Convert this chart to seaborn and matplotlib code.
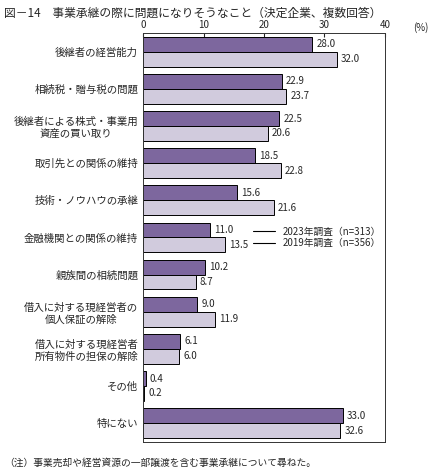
import matplotlib
matplotlib.use("Agg")
import matplotlib.pyplot as plt
import seaborn as sns
import pandas as pd
from matplotlib.lines import Line2D

categories = ["後継者の経営能力", "相続税・贈与税の問題", "後継者による株式・事業用\n資産の買い取り",
              "取引先との関係の維持", "技術・ノウハウの承継", "金融機関との関係の維持",
              "親族間の相続問題", "借入に対する現経営者の\n個人保証の解除",
              "借入に対する現経営者\n所有物件の担保の解除", "その他", "特にない"]
v2023 = [28.0, 22.9, 22.5, 18.5, 15.6, 11.0, 10.2, 9.0, 6.1, 0.4, 33.0]
v2019 = [32.0, 23.7, 20.6, 22.8, 21.6, 13.5, 8.7, 11.9, 6.0, 0.2, 32.6]
series = ["2023年調査（n=313）", "2019年調査（n=356）"]

df = pd.DataFrame({"cat": categories * 2,
                   "val": v2023 + v2019,
                   "series": [series[0]] * len(categories) + [series[1]] * len(categories)})

sns.set_style("white")
plt.rcParams['font.family'] = ['Noto Sans CJK JP', 'DejaVu Sans']

fig = plt.figure(figsize=(4.31, 4.73), dpi=100)
ax = fig.add_axes([0.332, 0.066, 0.561, 0.864])
colors = ["#7b5ea7", "#d0c8e0"]
sns.barplot(data=df, y="cat", x="val", hue="series", palette=colors, ax=ax,
            edgecolor="black", linewidth=0.7, width=0.8, legend=False)

for cont in ax.containers:
    ax.bar_label(cont, fmt="%.1f", padding=3, fontsize=7)

ax.set_xlim(0, 40)
ax.set_xticks([0, 10, 20, 30, 40])
ax.xaxis.tick_top()
ax.tick_params(axis="x", direction="in", length=3, labelsize=7, pad=2)
ax.tick_params(axis="y", length=0, labelsize=7.5)
for lab in ax.get_yticklabels():
    lab.set_multialignment("center")
ax.set_xlabel("")
ax.set_ylabel("")
for s in ax.spines.values():
    s.set_linewidth(0.7)
    s.set_color("#333333")

handles = [Line2D([], [], color="black", lw=0.8) for _ in series]
ax.legend(handles, series, loc="center left", bbox_to_anchor=(0.42, 0.5),
          frameon=False, fontsize=7, handlelength=2.2, labelspacing=0.2)

fig.text(0.995, 0.935, "(%)", ha="right", fontsize=7)
fig.text(0.01, 0.985, "図－14　事業承継の際に問題になりそうなこと（決定企業、複数回答）",
         ha="left", va="top", fontsize=8.5)
fig.text(0.01, 0.012, "（注）事業売却や経営資源の一部譲渡を含む事業承継について尋ねた。",
         ha="left", va="bottom", fontsize=7)

fig.savefig("out.png", dpi=100)
